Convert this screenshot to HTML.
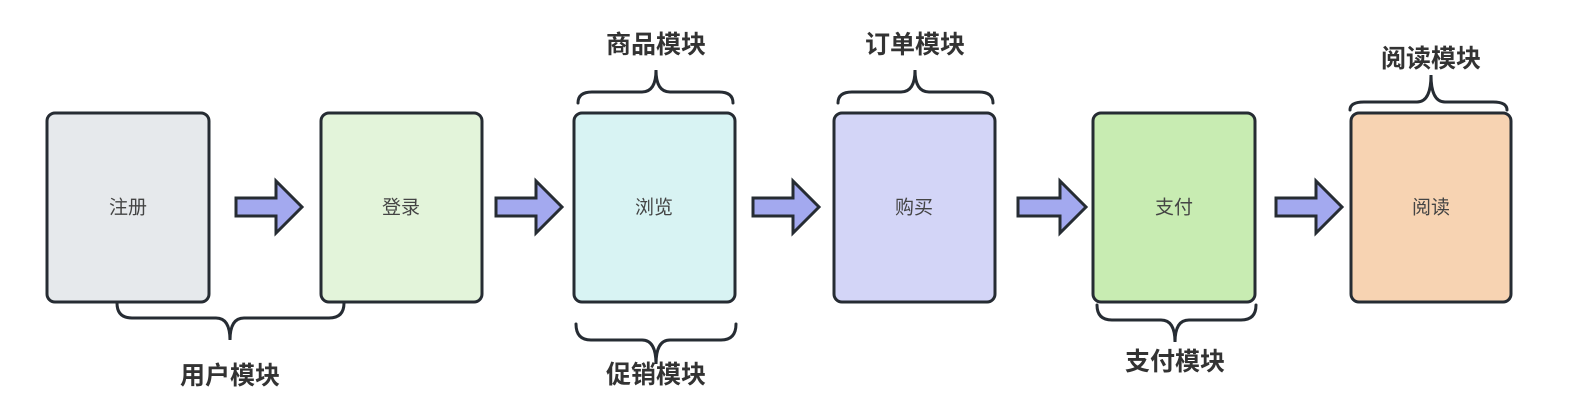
<!DOCTYPE html>
<html><head><meta charset="utf-8"><style>
html,body{margin:0;padding:0;background:#fff;}
svg{display:block}
text{font-family:"Liberation Sans","Noto Sans CJK SC",sans-serif;}
</style></head><body>
<svg width="1580" height="412" viewBox="0 0 1580 412" xmlns="http://www.w3.org/2000/svg">
<g stroke="#262c33" stroke-width="3">
<rect x="47" y="113" width="162" height="189" rx="8" fill="#e6e9ec"/>
<rect x="321" y="113" width="161" height="189" rx="8" fill="#e3f4da"/>
<rect x="574" y="113" width="161" height="189" rx="8" fill="#d8f3f3"/>
<rect x="834" y="113" width="161" height="189" rx="8" fill="#d3d5f7"/>
<rect x="1093" y="113" width="162" height="189" rx="8" fill="#c8ecb2"/>
<rect x="1351" y="113" width="160" height="189" rx="8" fill="#f7d3b2"/>
</g>
<g stroke="#262c33" stroke-width="3" fill="#a3a9ef" stroke-linejoin="miter">
<path d="M236 198 H276 V181 L302 207 L276 233 V216 H236 Z"/>
<path d="M496 198 H536 V181 L562 207 L536 233 V216 H496 Z"/>
<path d="M753 198 H793 V181 L819 207 L793 233 V216 H753 Z"/>
<path d="M1018 198 H1060 V181 L1086 207 L1060 233 V216 H1018 Z"/>
<path d="M1276 198 H1316 V181 L1342 207 L1316 233 V216 H1276 Z"/>
</g>
<g stroke="#262c33" stroke-width="3" fill="none" stroke-linecap="round">
<path d="M117 303 Q117 318 132 318 H216 Q230 318 230 340 Q230 318 244 318 H329 Q344 318 344 303"/>
<path d="M576 324 Q576 340 591 340 H642 Q656 340 656 364 Q656 340 670 340 H721 Q736 340 736 324"/>
<path d="M1097 305 Q1097 320 1112 320 H1161 Q1175 320 1175 342 Q1175 320 1189 320 H1241 Q1256 320 1256 305"/>
<path d="M578 103 Q578 92 592 92 H642 Q656 92 656 70 Q656 92 670 92 H719 Q733 92 733 103"/>
<path d="M838 103 Q838 92 852 92 H901 Q915 92 915 70 Q915 92 929 92 H979 Q993 92 993 103"/>
<path d="M1350 110 Q1350 102 1364 102 H1417 Q1431 102 1431 75 Q1431 102 1445 102 H1493 Q1507 102 1507 110"/>
</g>
<g font-size="19" fill="#444" text-anchor="middle" dominant-baseline="central">
<text x="128" y="208">注册</text>
<text x="401" y="208">登录</text>
<text x="654" y="208">浏览</text>
<text x="914" y="208">购买</text>
<text x="1174" y="208">支付</text>
<text x="1431" y="208">阅读</text>
</g>
<g font-size="25" font-weight="bold" fill="#333" text-anchor="middle" dominant-baseline="central">
<text x="230" y="376">用户模块</text>
<text x="656" y="375">促销模块</text>
<text x="1175" y="362">支付模块</text>
<text x="656" y="45">商品模块</text>
<text x="915" y="45">订单模块</text>
<text x="1431" y="59">阅读模块</text>
</g>
</svg>
</body></html>
